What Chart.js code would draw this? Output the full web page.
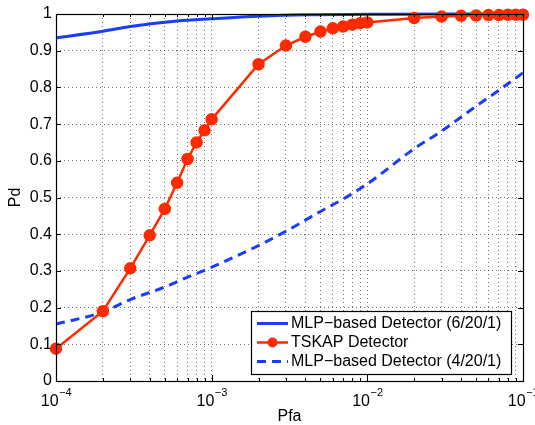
<!DOCTYPE html>
<html>
<head>
<meta charset="utf-8">
<script src="https://cdn.jsdelivr.net/npm/chart.js@4.4.0/dist/chart.umd.min.js"></script>
<style>
  html, body { margin: 0; padding: 0; background: #fff; }
  #wrap { width: 535px; height: 425px; position: relative; }
</style>
</head>
<body>
<div id="wrap"><canvas id="roc"></canvas></div>
<script>
// MLP-based detector (6/20/1)
const pfaMlp6 = [1e-4, 2e-4, 3e-4, 6e-4, 1e-3, 2e-3, 4e-3, 1e-2, 3e-2, 1e-1];
const pdMlp6  = [0.935, 0.953, 0.966, 0.981, 0.987, 0.994, 0.998, 0.999, 1.0, 1.0];

// TSKAP detector
const pfaTskap = [1e-4, 2e-4, 3e-4, 4e-4, 5e-4, 6e-4, 7e-4, 8e-4, 9e-4,
                  1e-3, 2e-3, 3e-3, 4e-3, 5e-3, 6e-3, 7e-3, 8e-3, 9e-3,
                  1e-2, 2e-2, 3e-2, 4e-2, 5e-2, 6e-2, 7e-2, 8e-2, 9e-2, 1e-1];
const pdTskap  = [0.088, 0.19, 0.307, 0.397, 0.469, 0.54, 0.605, 0.65, 0.683,
                  0.713, 0.863, 0.914, 0.938, 0.952, 0.961, 0.966, 0.971, 0.975,
                  0.977, 0.989, 0.993, 0.995, 0.996, 0.997, 0.997, 0.998, 0.998, 0.998];

// MLP-based detector (4/20/1)
const pfaMlp4 = [1e-4, 2e-4, 3e-4, 5e-4, 7e-4, 1e-3, 2e-3, 3e-3, 5e-3, 7e-3, 1e-2, 2e-2, 3e-2, 5e-2, 7e-2, 1e-1];
const pdMlp4  = [0.155, 0.188, 0.222, 0.256, 0.283, 0.31, 0.369, 0.408, 0.462, 0.496, 0.537, 0.633, 0.681, 0.749, 0.792, 0.84];

const xExponents = [-4, -3, -2, -1];
const yTicks = [0, 0.1, 0.2, 0.3, 0.4, 0.5, 0.6, 0.7, 0.8, 0.9, 1];
const legendLabels = ['MLP\u2212based Detector (6/20/1)', 'TSKAP Detector', 'MLP\u2212based Detector (4/20/1)'];

const BLUE = '#1a3cff';
const RED = '#ff2a00';
const FONT = 'Helvetica, Arial, "Liberation Sans", sans-serif';

function toPoints(xs, ys) {
  return xs.map((x, i) => ({ x: x, y: ys[i] }));
}

// minor + major positions for the log axis grid
function logGridValues() {
  const vals = [];
  for (let e = xExponents[0]; e < xExponents[xExponents.length - 1]; e++) {
    for (let k = 1; k <= 9; k++) vals.push(k * Math.pow(10, e));
  }
  vals.push(Math.pow(10, xExponents[xExponents.length - 1]));
  return vals;
}

const matlabFrame = {
  id: 'matlabFrame',
  afterDatasetsDraw(chart) {
    const ctx = chart.ctx;
    const a = chart.chartArea;
    const xs = chart.scales.x;
    const ys = chart.scales.y;
    ctx.save();

    // inward tick marks
    ctx.strokeStyle = '#000';
    ctx.lineWidth = 1;
    ctx.beginPath();
    xs.ticks.forEach(t => {
      const px = Math.round(xs.getPixelForValue(t.value)) + 0.5;
      const mant = t.value / Math.pow(10, Math.floor(Math.log10(t.value) + 1e-9));
      const len = Math.abs(mant - 1) < 1e-6 ? 6 : 3;
      ctx.moveTo(px, a.bottom); ctx.lineTo(px, a.bottom - len);
      ctx.moveTo(px, a.top); ctx.lineTo(px, a.top + len);
    });
    yTicks.forEach(v => {
      const py = Math.round(ys.getPixelForValue(v)) + 0.5;
      ctx.moveTo(a.left, py); ctx.lineTo(a.left + 5, py);
      ctx.moveTo(a.right, py); ctx.lineTo(a.right - 5, py);
    });
    ctx.stroke();

    // frame box
    ctx.strokeStyle = '#000';
    ctx.lineWidth = 1.2;
    ctx.strokeRect(Math.round(a.left) + 0.5, Math.round(a.top) + 0.5,
                   Math.round(a.right - a.left), Math.round(a.bottom - a.top));

    // x tick labels with superscript exponents
    ctx.fillStyle = '#000';
    ctx.textBaseline = 'alphabetic';
    xExponents.forEach(e => {
      const px = xs.getPixelForValue(Math.pow(10, e));
      ctx.font = '16px ' + FONT;
      const baseW = ctx.measureText('10').width;
      ctx.font = '11px ' + FONT;
      const expStr = '\u2212' + Math.abs(e);
      const expW = ctx.measureText(expStr).width;
      const left = px - (baseW + expW) / 2;
      ctx.font = '16px ' + FONT;
      ctx.textAlign = 'left';
      ctx.fillText('10', left, 406);
      ctx.font = '11px ' + FONT;
      ctx.fillText(expStr, left + baseW + 0.5, 396);
    });

    // axis titles
    ctx.font = '16px ' + FONT;
    ctx.textAlign = 'center';
    ctx.fillText('Pfa', (a.left + a.right) / 2, 421);
    ctx.save();
    ctx.translate(20, (a.top + a.bottom) / 2);
    ctx.rotate(-Math.PI / 2);
    ctx.fillText('Pd', 0, 0);
    ctx.restore();

    // legend box inside plot (south-east)
    const bx = 251, by = 311, bw = 260, bh = 63;
    ctx.fillStyle = '#fff';
    ctx.fillRect(bx, by, bw, bh);
    ctx.strokeStyle = '#000';
    ctx.lineWidth = 1.2;
    ctx.strokeRect(bx + 0.5, by + 0.5, bw, bh);
    const rows = [323.5, 342.5, 361.5];
    chart.data.datasets.forEach((ds, i) => {
      const y = rows[i];
      ctx.strokeStyle = ds.borderColor;
      ctx.lineWidth = ds.borderWidth;
      ctx.setLineDash(ds.borderDash || []);
      ctx.beginPath();
      ctx.moveTo(257, y); ctx.lineTo(288, y);
      ctx.stroke();
      ctx.setLineDash([]);
      if (ds.pointRadius > 0) {
        ctx.fillStyle = ds.pointBackgroundColor;
        ctx.beginPath();
        ctx.arc(272.5, y, ds.pointRadius, 0, Math.PI * 2);
        ctx.fill();
      }
      ctx.fillStyle = '#000';
      ctx.font = '16px ' + FONT;
      ctx.textAlign = 'left';
      ctx.textBaseline = 'middle';
      ctx.fillText(legendLabels[i], 291, y + 0.5);
    });
    ctx.restore();
  }
};

new Chart(document.getElementById('roc').getContext('2d'), {
  type: 'line',
  data: {
    datasets: [
      {
        label: legendLabels[0],
        data: toPoints(pfaMlp6, pdMlp6),
        borderColor: BLUE,
        backgroundColor: BLUE,
        borderWidth: 3,
        pointRadius: 0,
        cubicInterpolationMode: 'monotone',
        clip: false,
        order: 1
      },
      {
        label: legendLabels[1],
        data: toPoints(pfaTskap, pdTskap),
        borderColor: RED,
        backgroundColor: RED,
        pointBackgroundColor: RED,
        pointBorderColor: RED,
        borderWidth: 2.5,
        pointRadius: 5,
        tension: 0,
        clip: false,
        order: 0
      },
      {
        label: legendLabels[2],
        data: toPoints(pfaMlp4, pdMlp4),
        borderColor: BLUE,
        backgroundColor: BLUE,
        borderWidth: 3,
        borderDash: [9, 6],
        pointRadius: 0,
        cubicInterpolationMode: 'monotone',
        clip: false,
        order: 2
      }
    ]
  },
  options: {
    responsive: true,
    maintainAspectRatio: false,
    animation: false,
    layout: { padding: { left: 0, top: 14, right: 12, bottom: 0 } },
    scales: {
      x: {
        type: 'logarithmic',
        min: 1e-4,
        max: 1e-1,
        afterBuildTicks: scale => { scale.ticks = logGridValues().map(v => ({ value: v })); },
        afterFit: scale => { scale.height = 44; },
        ticks: { display: false },
        grid: { color: 'rgba(0,0,0,0.55)', lineWidth: 1, drawTicks: false },
        border: { display: false, dash: [1, 3] }
      },
      y: {
        min: 0,
        max: 1,
        afterBuildTicks: scale => { scale.ticks = yTicks.map(v => ({ value: v })); },
        afterFit: scale => { scale.width = 56; },
        ticks: {
          padding: 4,
          color: '#000',
          font: { size: 16, family: FONT },
          callback: v => String(Math.round(v * 10) / 10)
        },
        grid: { color: 'rgba(0,0,0,0.55)', lineWidth: 1, drawTicks: false },
        border: { display: false, dash: [1, 3] }
      }
    },
    plugins: {
      legend: { display: false },
      tooltip: { enabled: false }
    }
  },
  plugins: [matlabFrame]
});
</script>
</body>
</html>
